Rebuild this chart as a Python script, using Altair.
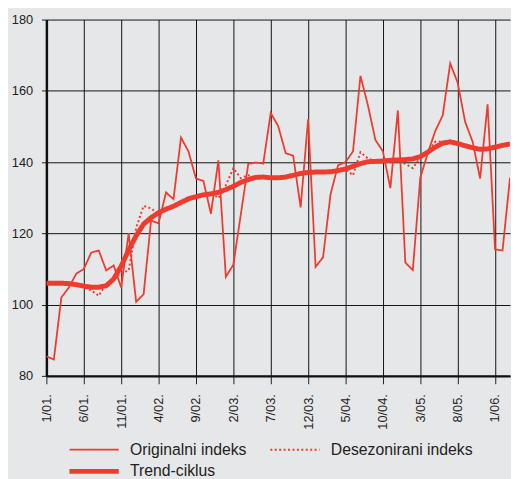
import altair as alt
import pandas as pd

# month index 0 = 1/01. ... 62 = 3/06.
tick_labels = ["1/01.", "6/01.", "11/01.", "4/02.", "9/02.", "2/03.", "7/03.",
               "12/03.", "5/04.", "10/04.", "3/05.", "8/05.", "1/06."]

original = [85.5, 84.6, 102.0, 104.8, 108.7, 110.0, 114.6, 115.2, 109.6, 111.0,
            104.8, 120.0, 100.8, 102.9, 123.6, 122.8, 131.5, 129.6, 146.9, 143.0,
            135.4, 134.7, 125.5, 140.5, 107.8, 111.2, 125.3, 139.5, 139.9, 139.6,
            153.8, 150.1, 142.5, 141.8, 127.3, 152.0, 110.6, 113.3, 131.0, 139.1,
            140.0, 143.0, 164.2, 155.9, 146.2, 143.0, 132.7, 154.5, 111.8, 109.7,
            135.6, 142.5, 148.7, 153.1, 167.7, 162.3, 151.3, 145.7, 135.4, 156.2,
            115.5, 115.2, 135.6]

deseason = [106.0, 105.8, 106.2, 105.7, 105.9, 104.8, 104.0, 102.5, 105.8, 107.0,
            109.0, 109.5, 121.5, 127.7, 127.0, 125.5, 126.5, 127.9, 128.3, 129.2,
            130.5, 130.4, 131.5, 129.9, 133.5, 138.3, 135.5, 136.3, 135.5, 135.9,
            135.4, 135.8, 135.6, 136.5, 136.6, 137.3, 137.0, 137.4, 137.0, 137.8,
            138.0, 136.3, 142.8, 141.0, 140.3, 140.0, 140.7, 140.5, 139.5, 138.3,
            141.3, 143.0, 145.7, 145.8, 145.5, 145.0, 144.8, 143.7, 143.4, 143.9,
            144.4, 144.5, 145.3]

trend = [106.0, 106.0, 106.0, 105.9, 105.6, 105.2, 104.9, 104.9, 105.3, 107.2,
         110.8, 115.3, 119.3, 122.6, 124.4, 125.8, 126.8, 127.6, 128.7, 129.7,
         130.3, 130.8, 131.1, 131.5, 132.3, 133.2, 134.3, 135.1, 135.7, 135.8,
         135.6, 135.6, 135.8, 136.3, 136.8, 137.1, 137.2, 137.2, 137.3, 137.6,
         138.1, 138.8, 139.6, 140.1, 140.2, 140.3, 140.5, 140.6, 140.7, 140.9,
         141.5, 142.8, 144.2, 145.3, 145.7, 145.2, 144.6, 144.0, 143.6, 143.7,
         144.2, 144.7, 145.1]

series_names = ["Originalni indeks", "Desezonirani indeks", "Trend-ciklus"]

rows = []
for k, (name, vals) in enumerate(zip(series_names, [original, deseason, trend])):
    for i, v in enumerate(vals):
        rows.append({"m": i, "v": v, "s": name, "k": k})
df = pd.DataFrame(rows)

RED = "#ee3b2e"
FONT = "Liberation Sans"
label_arr = "[" + ",".join("'%s'" % t for t in tick_labels) + "]"

legend = alt.Legend(title=None, values=series_names)

chart = alt.Chart(df).mark_line(color=RED, clip=True).encode(
    x=alt.X("m:Q", scale=alt.Scale(domain=[0, 62], nice=False, zero=False),
            axis=alt.Axis(values=list(range(0, 61, 5)), labelAngle=270,
                          labelExpr=label_arr + "[round(datum.value/5)]",
                          title=None, tickSize=8, labelPadding=10)),
    y=alt.Y("v:Q", scale=alt.Scale(domain=[80, 180], nice=False, zero=False),
            axis=alt.Axis(values=[80, 100, 120, 140, 160, 180], title=None,
                          tickSize=5, labelPadding=9)),
    strokeWidth=alt.StrokeWidth("s:N", scale=alt.Scale(type="ordinal", domain=series_names,
                                                       range=[1.8, 2, 5]),
                                legend=legend),
    strokeDash=alt.StrokeDash("s:N", scale=alt.Scale(domain=series_names,
                                                     range=[[1, 0], [2, 2.5], [1, 0]]),
                              legend=legend),
    order=alt.Order("m:Q"),
).properties(
    width=471, height=362,
    autosize=alt.AutoSizeParams(type="none"),
    padding={"left": 39, "top": 8, "right": 1, "bottom": 101},
    background="#e6e7e8",
).configure_view(
    stroke=None, fill="#e6e7e8"
).configure_axis(
    labelFont=FONT, labelFontSize=13, labelColor="#222",
    grid=True, gridColor="#111", gridWidth=1, gridOpacity=1,
    domainColor="#111", domainWidth=2.5, tickColor="#222", tickWidth=1,
).configure_legend(
    orient="none", legendX=21, legendY=429, columns=2, direction="horizontal",
    symbolType="stroke", symbolSize=2500, symbolStrokeColor=RED,
    clipHeight=16, rowPadding=6, columnPadding=21,
    labelFont=FONT, labelFontSize=16, labelColor="#222", labelOffset=9,
    padding=0,
)

chart.save("out.html", embed_options={"renderer": "svg", "actions": False})
